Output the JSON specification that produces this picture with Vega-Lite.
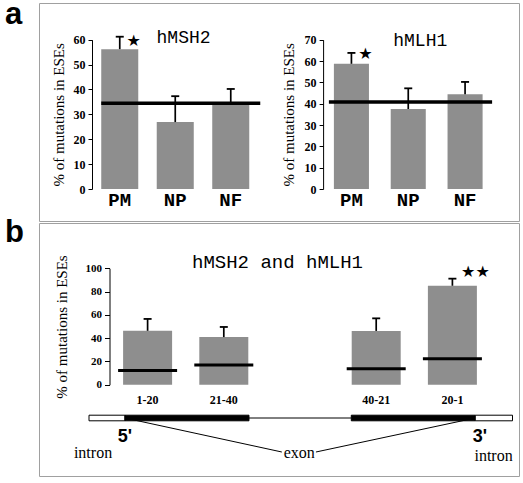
{
  "$schema": "https://vega.github.io/schema/vega-lite/v6.json",
  "background": "white",
  "padding": {"left": 4, "top": -2, "right": 4, "bottom": 4},
  "spacing": 2,
  "bounds": "flush",
  "config": {
    "view": {"stroke": "#a0a0a0", "strokeWidth": 1},
    "tick": {"opacity": 1},
    "axis": {"grid": false, "zindex": 2, "domainColor": "black", "tickColor": "black", "labelColor": "black", "titleColor": "black", "labelFont": "Liberation Serif", "titleFont": "Liberation Serif", "labelFontWeight": "bold", "titleFontWeight": "normal"}
  },
  "datasets": {
    "msh2": [
      {"cat": "PM", "v": 56.2, "hi": 61.2},
      {"cat": "NP", "v": 26.9, "hi": 37.3},
      {"cat": "NF", "v": 34.1, "hi": 40.2}
    ],
    "mlh1": [
      {"cat": "PM", "v": 58.7, "hi": 63.8},
      {"cat": "NP", "v": 37.5, "hi": 47.2},
      {"cat": "NF", "v": 44.4, "hi": 50.2}
    ],
    "msh2mean": [{"gene": "hMSH2", "mean": 34.5}],
    "mlh1mean": [{"gene": "hMLH1", "mean": 40.8}],
    "win": [
      {"win": "1-20", "v": 46.3, "hi": 56.5, "mean": 12.2},
      {"win": "21-40", "v": 40.9, "hi": 49.6, "mean": 16.9},
      {"win": "40-21", "v": 46.2, "hi": 57, "mean": 13.8},
      {"win": "20-1", "v": 85, "hi": 91.1, "mean": 22.4}
    ],
    "heading": [{"heading": "hMSH2 and hMLH1"}],
    "links": [
      {"pos": 0, "track": "gene", "side": "5'"},
      {"pos": 50.6, "track": "labels", "side": "5'"},
      {"pos": 61.6, "track": "labels", "side": "3'"},
      {"pos": 113, "track": "gene", "side": "3'"}
    ],
    "spliced": [{"start": 40, "end": 73, "track": "gene"}],
    "parts": [
      {"part": "intron", "start": -11.6, "end": 0, "track": "gene"},
      {"part": "exon", "start": 0, "end": 40, "track": "gene"},
      {"part": "exon", "start": 73, "end": 113, "track": "gene"},
      {"part": "intron", "start": 113, "end": 125, "track": "gene"}
    ],
    "ends": [
      {"label": "5'", "pos": 0, "track": "ends"},
      {"label": "3'", "pos": 114.5, "track": "ends"}
    ],
    "names": [
      {"label": "intron", "pos": -10.3, "track": "labels"},
      {"label": "exon", "pos": 56.2, "track": "labels"}
    ],
    "names2": [{"label": "intron", "pos": 118.9, "track": "labels"}]
  },
  "vconcat": [
    {
      "width": 480,
      "height": 218,
      "title": {"text": "a", "anchor": "start", "frame": "group", "orient": "top", "font": "Liberation Sans", "fontSize": 31, "fontWeight": "bold", "baseline": "alphabetic", "offset": -34, "dx": -34, "dy": 18, "color": "black"},
      "layer": [
        {"data": {"name": "msh2"},
         "mark": {"type": "bar", "color": "#8e8e8e"},
         "encoding": {
           "x": {"field": "cat", "type": "nominal", "sort": null,
             "scale": {"domain": ["PM", "NP", "NF"], "range": [53, 219.5], "paddingInner": 0.333, "paddingOuter": 0.1665},
             "axis": {"orient": "bottom", "offset": -32, "domain": false, "ticks": false, "labelFont": "Liberation Mono", "labelFontSize": 19, "labelFontWeight": "bold", "labelPadding": 1, "labelAngle": 0, "title": null}},
           "y": {"field": "v", "type": "quantitative", "scale": {"domain": [0, 60], "range": [186, 36.7], "nice": false, "zero": true},
             "axis": {"orient": "left", "offset": -53, "values": [0, 10, 20, 30, 40, 50, 60], "tickSize": 4, "labelPadding": 3, "labelFontSize": 12, "title": "% of mutations in ESEs", "titleFontSize": 15, "titlePadding": 7}}}},
        {"data": {"name": "msh2"},
         "mark": {"type": "rule", "color": "black", "strokeWidth": 1.7},
         "encoding": {
           "x": {"field": "cat", "type": "nominal", "sort": null, "scale": {"domain": ["PM", "NP", "NF"], "range": [53, 219.5], "paddingInner": 0.333, "paddingOuter": 0.1665}, "axis": null},
           "y": {"field": "v", "type": "quantitative", "scale": {"domain": [0, 60], "range": [186, 36.7], "nice": false}, "axis": null}, "y2": {"field": "hi"}}},
        {"data": {"name": "msh2"},
         "mark": {"type": "tick", "color": "black", "size": 8, "thickness": 1.8},
         "encoding": {
           "x": {"field": "cat", "type": "nominal", "sort": null, "scale": {"domain": ["PM", "NP", "NF"], "range": [53, 219.5], "paddingInner": 0.333, "paddingOuter": 0.1665}, "axis": null},
           "y": {"field": "hi", "type": "quantitative", "scale": {"domain": [0, 60], "range": [186, 36.7], "nice": false}, "axis": null}}},
        {"data": {"name": "msh2"},
         "transform": [{"filter": "datum.cat === 'PM'"}],
         "mark": {"type": "text", "text": "★", "font": "DejaVu Sans", "fontSize": 16, "dx": 14, "dy": 4.3, "baseline": "middle", "color": "black"},
         "encoding": {
           "x": {"field": "cat", "type": "nominal", "sort": null, "scale": {"domain": ["PM", "NP", "NF"], "range": [53, 219.5], "paddingInner": 0.333, "paddingOuter": 0.1665}, "axis": null},
           "y": {"field": "hi", "type": "quantitative", "scale": {"domain": [0, 60], "range": [186, 36.7], "nice": false}, "axis": null}}},
        {"data": {"name": "msh2mean"},
         "mark": {"type": "rule", "color": "black", "strokeWidth": 3.5, "x2Offset": 11},
         "encoding": {
           "x": {"datum": "PM", "bandPosition": 0, "scale": {"domain": ["PM", "NP", "NF"], "range": [53, 219.5], "paddingInner": 0.333, "paddingOuter": 0.1665}, "axis": null},
           "x2": {"datum": "NF", "bandPosition": 1},
           "y": {"field": "mean", "type": "quantitative", "scale": {"domain": [0, 60], "range": [186, 36.7], "nice": false}, "axis": null}}},
        {"data": {"name": "msh2mean"},
         "mark": {"type": "text", "font": "Liberation Mono", "fontSize": 18, "dx": 8.3, "dy": 3.3, "baseline": "alphabetic", "align": "center", "color": "black"},
         "encoding": {
           "text": {"field": "gene"},
           "x": {"datum": "NP", "scale": {"domain": ["PM", "NP", "NF"], "range": [53, 219.5], "paddingInner": 0.333, "paddingOuter": 0.1665}, "axis": null},
           "y": {"datum": 60, "scale": {"domain": [0, 60], "range": [186, 36.7], "nice": false}, "axis": null}}},

        {"data": {"name": "mlh1"},
         "mark": {"type": "bar", "color": "#8e8e8e"},
         "encoding": {
           "x": {"field": "cat", "type": "nominal", "sort": null,
             "scale": {"domain": ["PM", "NP", "NF"], "range": [284.1, 454.4], "paddingInner": 0.383, "paddingOuter": 0.19},
             "axis": {"orient": "bottom", "offset": -32, "domain": false, "ticks": false, "labelFont": "Liberation Mono", "labelFontSize": 19, "labelFontWeight": "bold", "labelPadding": 1, "labelAngle": 0, "title": null}},
           "y": {"field": "v", "type": "quantitative", "scale": {"domain": [0, 70], "range": [186, 36.7], "nice": false, "zero": true},
             "axis": {"orient": "left", "offset": -284.1, "values": [0, 10, 20, 30, 40, 50, 60, 70], "tickSize": 4, "labelPadding": 3, "labelFontSize": 12, "title": "% of mutations in ESEs", "titleFontSize": 15, "titlePadding": 8}}}},
        {"data": {"name": "mlh1"},
         "mark": {"type": "rule", "color": "black", "strokeWidth": 1.7},
         "encoding": {
           "x": {"field": "cat", "type": "nominal", "sort": null, "scale": {"domain": ["PM", "NP", "NF"], "range": [284.1, 454.4], "paddingInner": 0.383, "paddingOuter": 0.19}, "axis": null},
           "y": {"field": "v", "type": "quantitative", "scale": {"domain": [0, 70], "range": [186, 36.7], "nice": false}, "axis": null}, "y2": {"field": "hi"}}},
        {"data": {"name": "mlh1"},
         "mark": {"type": "tick", "color": "black", "size": 8, "thickness": 1.8},
         "encoding": {
           "x": {"field": "cat", "type": "nominal", "sort": null, "scale": {"domain": ["PM", "NP", "NF"], "range": [284.1, 454.4], "paddingInner": 0.383, "paddingOuter": 0.19}, "axis": null},
           "y": {"field": "hi", "type": "quantitative", "scale": {"domain": [0, 70], "range": [186, 36.7], "nice": false}, "axis": null}}},
        {"data": {"name": "mlh1"},
         "transform": [{"filter": "datum.cat === 'PM'"}],
         "mark": {"type": "text", "text": "★", "font": "DejaVu Sans", "fontSize": 16, "dx": 14, "dy": 0.6, "baseline": "middle", "color": "black"},
         "encoding": {
           "x": {"field": "cat", "type": "nominal", "sort": null, "scale": {"domain": ["PM", "NP", "NF"], "range": [284.1, 454.4], "paddingInner": 0.383, "paddingOuter": 0.19}, "axis": null},
           "y": {"field": "hi", "type": "quantitative", "scale": {"domain": [0, 70], "range": [186, 36.7], "nice": false}, "axis": null}}},
        {"data": {"name": "mlh1mean"},
         "mark": {"type": "rule", "color": "black", "strokeWidth": 3.5, "xOffset": -5, "x2Offset": 9.5},
         "encoding": {
           "x": {"datum": "PM", "bandPosition": 0, "scale": {"domain": ["PM", "NP", "NF"], "range": [284.1, 454.4], "paddingInner": 0.383, "paddingOuter": 0.19}, "axis": null},
           "x2": {"datum": "NF", "bandPosition": 1},
           "y": {"field": "mean", "type": "quantitative", "scale": {"domain": [0, 70], "range": [186, 36.7], "nice": false}, "axis": null}}},
        {"data": {"name": "mlh1mean"},
         "mark": {"type": "text", "font": "Liberation Mono", "fontSize": 18, "dx": 12, "dy": 6.3, "baseline": "alphabetic", "align": "center", "color": "black"},
         "encoding": {
           "text": {"field": "gene"},
           "x": {"datum": "NP", "scale": {"domain": ["PM", "NP", "NF"], "range": [284.1, 454.4], "paddingInner": 0.383, "paddingOuter": 0.19}, "axis": null},
           "y": {"datum": 70, "scale": {"domain": [0, 70], "range": [186, 36.7], "nice": false}, "axis": null}}}
      ],
      "resolve": {"scale": {"x": "independent", "y": "independent"}, "axis": {"x": "independent", "y": "independent"}}
    },
    {
      "width": 480,
      "height": 253,
      "title": {"text": "b", "anchor": "start", "frame": "group", "orient": "top", "font": "Liberation Sans", "fontSize": 31, "fontWeight": "bold", "baseline": "alphabetic", "offset": -30, "dx": -34, "dy": 20, "color": "black"},
      "layer": [
        {"data": {"name": "win"},
         "mark": {"type": "bar", "color": "#8e8e8e"},
         "encoding": {
           "x": {"field": "win", "type": "nominal", "sort": null,
             "scale": {"domain": ["1-20", "21-40", " ", "40-21", "20-1"], "range": [70.5, 451.5], "paddingInner": 0.357, "paddingOuter": 0.1785},
             "axis": {"orient": "bottom", "offset": -91.3, "domain": false, "ticks": false, "labelFontSize": 12, "labelPadding": 10, "labelAngle": 0, "title": null}},
           "y": {"field": "v", "type": "quantitative", "scale": {"domain": [0, 100], "range": [161.7, 45.3], "nice": false, "zero": true},
             "axis": {"orient": "left", "offset": -70.5, "values": [0, 20, 40, 60, 80, 100], "tickSize": 5, "labelPadding": 3, "labelFontSize": 11, "title": "% of mutations in ESEs", "titleFontSize": 15, "titlePadding": 16}}}},
        {"data": {"name": "win"},
         "mark": {"type": "rule", "color": "black", "strokeWidth": 1.7},
         "encoding": {
           "x": {"field": "win", "type": "nominal", "sort": null, "scale": {"domain": ["1-20", "21-40", " ", "40-21", "20-1"], "range": [70.5, 451.5], "paddingInner": 0.357, "paddingOuter": 0.1785}, "axis": null},
           "y": {"field": "v", "type": "quantitative", "scale": {"domain": [0, 100], "range": [161.7, 45.3], "nice": false}, "axis": null}, "y2": {"field": "hi"}}},
        {"data": {"name": "win"},
         "mark": {"type": "tick", "color": "black", "size": 8, "thickness": 1.8},
         "encoding": {
           "x": {"field": "win", "type": "nominal", "sort": null, "scale": {"domain": ["1-20", "21-40", " ", "40-21", "20-1"], "range": [70.5, 451.5], "paddingInner": 0.357, "paddingOuter": 0.1785}, "axis": null},
           "y": {"field": "hi", "type": "quantitative", "scale": {"domain": [0, 100], "range": [161.7, 45.3], "nice": false}, "axis": null}}},
        {"data": {"name": "win"},
         "mark": {"type": "tick", "color": "black", "size": 59, "thickness": 3},
         "encoding": {
           "x": {"field": "win", "type": "nominal", "sort": null, "scale": {"domain": ["1-20", "21-40", " ", "40-21", "20-1"], "range": [70.5, 451.5], "paddingInner": 0.357, "paddingOuter": 0.1785}, "axis": null},
           "y": {"field": "mean", "type": "quantitative", "scale": {"domain": [0, 100], "range": [161.7, 45.3], "nice": false}, "axis": null}}},
        {"data": {"name": "win"},
         "transform": [{"filter": "datum.win === '20-1'"}],
         "mark": {"type": "text", "text": "★★", "font": "DejaVu Sans", "fontSize": 16, "dx": 23, "dy": -6.7, "baseline": "middle", "color": "black"},
         "encoding": {
           "x": {"field": "win", "type": "nominal", "sort": null, "scale": {"domain": ["1-20", "21-40", " ", "40-21", "20-1"], "range": [70.5, 451.5], "paddingInner": 0.357, "paddingOuter": 0.1785}, "axis": null},
           "y": {"field": "hi", "type": "quantitative", "scale": {"domain": [0, 100], "range": [161.7, 45.3], "nice": false}, "axis": null}}},
        {"data": {"name": "heading"},
         "mark": {"type": "text", "font": "Liberation Mono", "fontSize": 19, "dx": -22.5, "baseline": "alphabetic", "align": "center", "color": "black"},
         "encoding": {
           "text": {"field": "heading"},
           "x": {"datum": " ", "scale": {"domain": ["1-20", "21-40", " ", "40-21", "20-1"], "range": [70.5, 451.5], "paddingInner": 0.357, "paddingOuter": 0.1785}, "axis": null},
           "y": {"datum": 100, "scale": {"domain": [0, 100], "range": [161.7, 45.3], "nice": false}, "axis": null}}},
        {"data": {"name": "links"},
         "mark": {"type": "line", "color": "black", "strokeWidth": 1},
         "encoding": {
           "x": {"field": "pos", "type": "quantitative", "scale": {"domain": [-11.6, 125], "range": [50, 473.5], "nice": false, "zero": false}, "axis": null},
           "y": {"field": "track", "type": "ordinal", "scale": {"type": "point", "domain": ["gene", "ends", "labels"], "range": [195, 229], "padding": 0}, "axis": null},
           "detail": {"field": "side"}}},
        {"data": {"name": "spliced"},
         "mark": {"type": "rule", "color": "black", "strokeWidth": 1},
         "encoding": {
           "x": {"field": "start", "type": "quantitative", "scale": {"domain": [-11.6, 125], "range": [50, 473.5], "nice": false, "zero": false}, "axis": null},
           "x2": {"field": "end"},
           "y": {"field": "track", "type": "ordinal", "scale": {"type": "point", "domain": ["gene", "ends", "labels"], "range": [195, 229], "padding": 0}, "axis": null}}},
        {"data": {"name": "parts"},
         "mark": {"type": "bar", "height": 5.6, "stroke": "black", "strokeWidth": 1},
         "encoding": {
           "x": {"field": "start", "type": "quantitative", "scale": {"domain": [-11.6, 125], "range": [50, 473.5], "nice": false, "zero": false}, "axis": null},
           "x2": {"field": "end"},
           "y": {"field": "track", "type": "ordinal", "scale": {"type": "point", "domain": ["gene", "ends", "labels"], "range": [195, 229], "padding": 0}, "axis": null},
           "color": {"field": "part", "type": "nominal", "scale": {"domain": ["intron", "exon"], "range": ["white", "black"]}, "legend": null}}},
        {"data": {"name": "ends"},
         "mark": {"type": "text", "font": "Liberation Sans", "fontSize": 18, "fontWeight": "bold", "baseline": "middle", "align": "center", "dy": 2, "color": "black"},
         "encoding": {
           "text": {"field": "label"},
           "x": {"field": "pos", "type": "quantitative", "scale": {"domain": [-11.6, 125], "range": [50, 473.5], "nice": false, "zero": false}, "axis": null},
           "y": {"field": "track", "type": "ordinal", "scale": {"type": "point", "domain": ["gene", "ends", "labels"], "range": [195, 229], "padding": 0}, "axis": null}}},
        {"data": {"name": "names"},
         "mark": {"type": "text", "font": "Liberation Serif", "fontSize": 16, "baseline": "middle", "align": "center", "dy": 1, "color": "black"},
         "encoding": {
           "text": {"field": "label"},
           "x": {"field": "pos", "type": "quantitative", "scale": {"domain": [-11.6, 125], "range": [50, 473.5], "nice": false, "zero": false}, "axis": null},
           "y": {"field": "track", "type": "ordinal", "scale": {"type": "point", "domain": ["gene", "ends", "labels"], "range": [195, 229], "padding": 0}, "axis": null}}},
        {"data": {"name": "names2"},
         "mark": {"type": "text", "font": "Liberation Serif", "fontSize": 16, "baseline": "middle", "align": "center", "dy": 4, "color": "black"},
         "encoding": {
           "text": {"field": "label"},
           "x": {"field": "pos", "type": "quantitative", "scale": {"domain": [-11.6, 125], "range": [50, 473.5], "nice": false, "zero": false}, "axis": null},
           "y": {"field": "track", "type": "ordinal", "scale": {"type": "point", "domain": ["gene", "ends", "labels"], "range": [195, 229], "padding": 0}, "axis": null}}}
      ],
      "resolve": {"scale": {"x": "independent", "y": "independent"}, "axis": {"x": "independent", "y": "independent"}}
    }
  ]
}
